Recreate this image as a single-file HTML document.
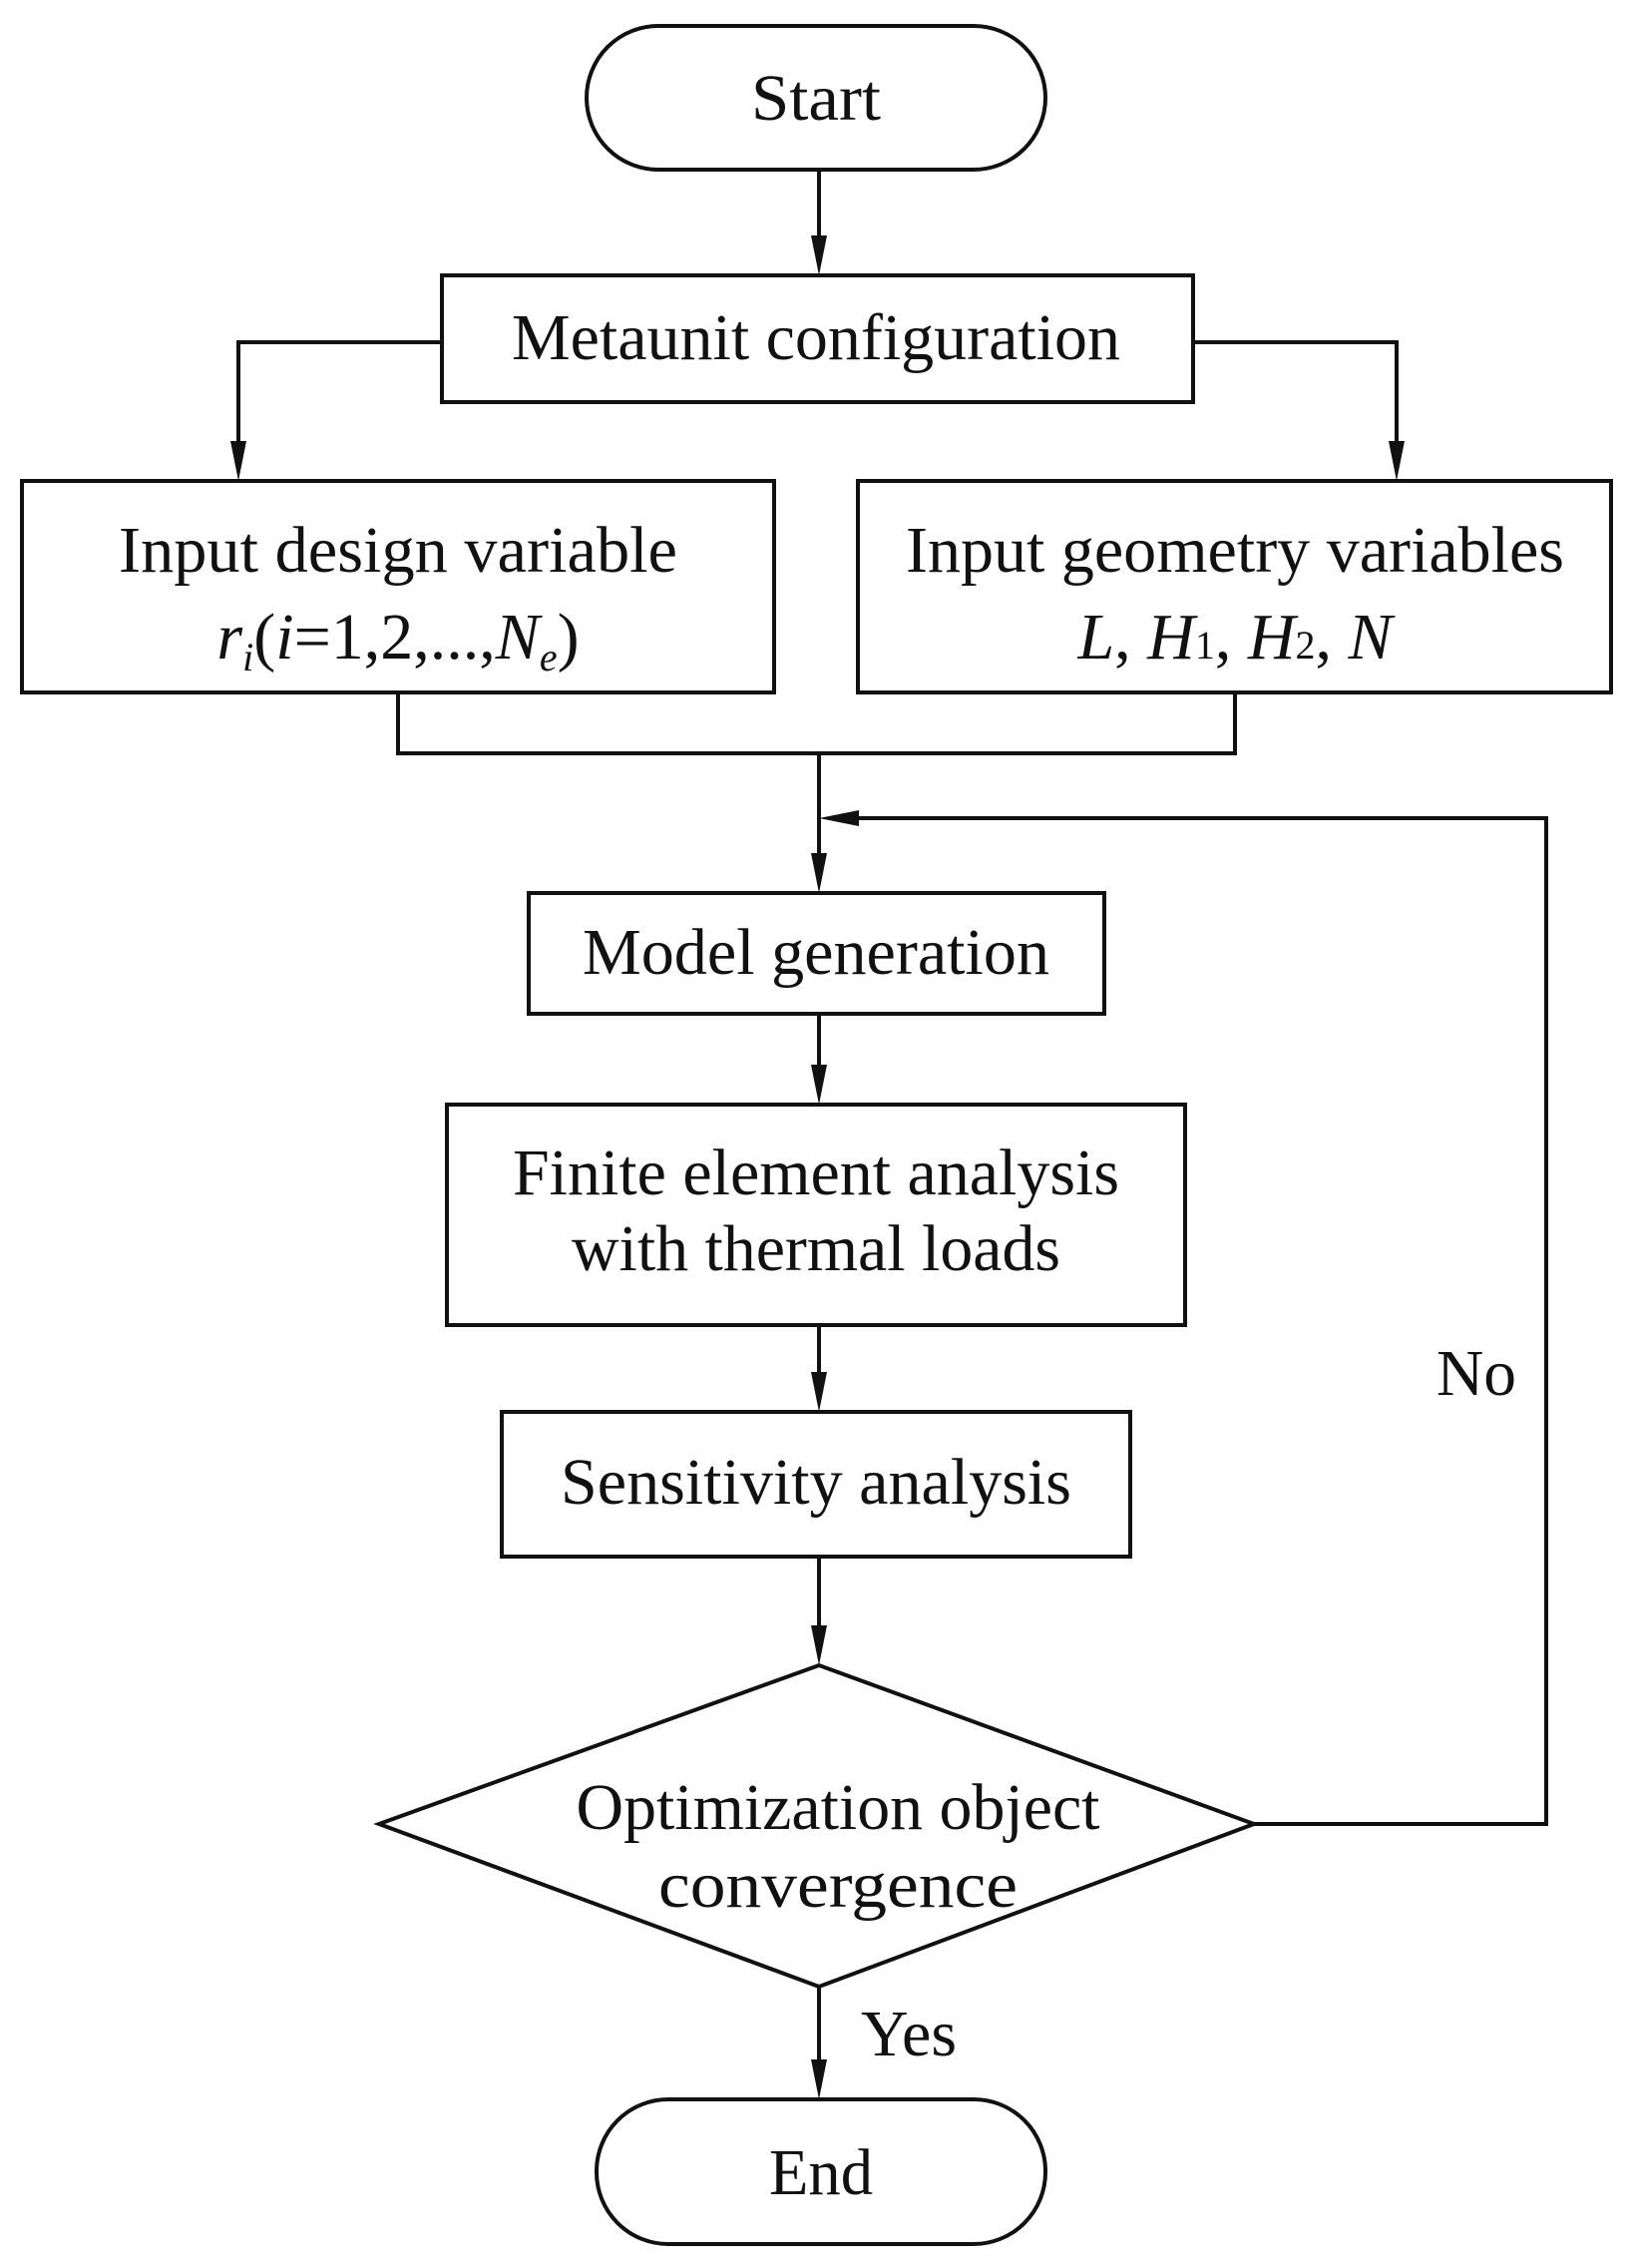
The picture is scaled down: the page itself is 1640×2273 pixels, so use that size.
<!DOCTYPE html>
<html><head><meta charset="utf-8"><style>html,body{margin:0;padding:0;background:#fff}svg{display:block}</style></head>
<body>
<svg width="1640" height="2273" viewBox="0 0 1640 2273" xmlns="http://www.w3.org/2000/svg" font-family="'Liberation Serif', serif" font-size="66" fill="#111">
<g stroke="#111" stroke-width="4" fill="none">
<rect x="588" y="26" width="460" height="144" rx="72"/>
<line x1="821" y1="170" x2="821" y2="240"/>
<rect x="443" y="276" width="753" height="127"/>
<polyline points="443,343 239,343 239,445"/>
<polyline points="1196,343 1400,343 1400,445"/>
<rect x="22" y="482" width="754" height="212"/>
<rect x="860" y="482" width="755" height="212"/>
<polyline points="399,694 399,755 1238,755 1238,694"/>
<line x1="821" y1="755" x2="821" y2="860"/>
<polyline points="1257,1828 1550,1828 1550,820 855,820"/>
<rect x="530" y="895" width="577" height="121"/>
<line x1="821" y1="1016" x2="821" y2="1070"/>
<rect x="448" y="1107" width="740" height="221"/>
<line x1="821" y1="1328" x2="821" y2="1380"/>
<rect x="503" y="1415" width="630" height="145"/>
<line x1="821" y1="1560" x2="821" y2="1632"/>
<polygon points="821,1669 1257,1828 821,1991 380,1828"/>
<line x1="821" y1="1991" x2="821" y2="2068"/>
<rect x="598" y="2104" width="450" height="145" rx="72"/>
</g>
<g fill="#111">
<polygon points="813,236 829,236 821,276"/>
<polygon points="231,442 247,442 239,482"/>
<polygon points="1392,442 1408,442 1400,482"/>
<polygon points="813,855 829,855 821,895"/>
<polygon points="861,812 861,828 821,820"/>
<polygon points="813,1067 829,1067 821,1107"/>
<polygon points="813,1375 829,1375 821,1415"/>
<polygon points="813,1629 829,1629 821,1669"/>
<polygon points="813,2064 829,2064 821,2104"/>
</g>
<g text-anchor="middle">
<text x="818" y="120" textLength="130" lengthAdjust="spacingAndGlyphs">Start</text>
<text x="818" y="360" textLength="610" lengthAdjust="spacingAndGlyphs">Metaunit configuration</text>
<text x="399" y="573" textLength="560" lengthAdjust="spacingAndGlyphs">Input design variable</text>
<text x="399" y="660"><tspan font-style="italic">r</tspan><tspan font-style="italic" font-size="40" dy="12">i</tspan><tspan dy="-12">(</tspan><tspan font-style="italic">i</tspan>=1,2,...,<tspan font-style="italic">N</tspan><tspan font-style="italic" font-size="40" dy="12">e</tspan><tspan dy="-12">)</tspan></text>
<text x="1238" y="573" textLength="660" lengthAdjust="spacingAndGlyphs">Input geometry variables</text>
<text x="1238" y="660"><tspan font-style="italic">L</tspan>, <tspan font-style="italic">H</tspan><tspan font-size="40">1</tspan>, <tspan font-style="italic">H</tspan><tspan font-size="40">2</tspan>, <tspan font-style="italic">N</tspan></text>
<text x="818" y="976" textLength="468" lengthAdjust="spacingAndGlyphs">Model generation</text>
<text x="818" y="1197" textLength="608" lengthAdjust="spacingAndGlyphs">Finite element analysis</text>
<text x="818" y="1273" textLength="490" lengthAdjust="spacingAndGlyphs">with thermal loads</text>
<text x="818" y="1507" textLength="512" lengthAdjust="spacingAndGlyphs">Sensitivity analysis</text>
<text x="840" y="1833" textLength="525" lengthAdjust="spacingAndGlyphs">Optimization object</text>
<text x="840" y="1911" textLength="360" lengthAdjust="spacingAndGlyphs">convergence</text>
<text x="823" y="2199" textLength="104" lengthAdjust="spacingAndGlyphs">End</text>
</g>
<text x="863" y="2060" textLength="96" lengthAdjust="spacingAndGlyphs">Yes</text>
<text x="1440" y="1398" textLength="80" lengthAdjust="spacingAndGlyphs">No</text>
</svg>
</body></html>
